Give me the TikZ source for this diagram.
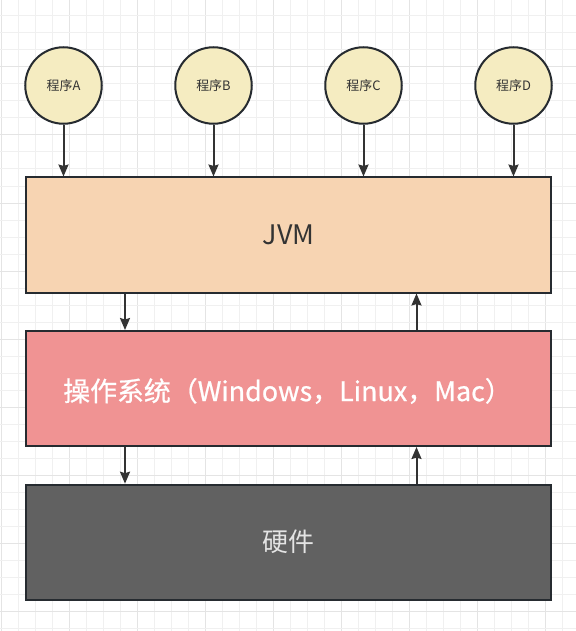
\documentclass[tikz,border=0pt]{standalone}
\usepackage{fontspec}
\setmainfont{Noto Sans CJK SC}
\newfontfamily\osfont[FakeBold=0.8]{Noto Sans CJK SC}
\usetikzlibrary{arrows.meta}
\definecolor{gridminor}{HTML}{F0F0F0}
\definecolor{gridmajor}{HTML}{E4E4E4}
\definecolor{edgecol}{HTML}{262B30}
\definecolor{arrcol}{HTML}{333333}
\definecolor{jvmfill}{HTML}{F7D4B2}
\definecolor{osfill}{HTML}{F09393}
\definecolor{hwfill}{HTML}{616161}
\definecolor{progfill}{HTML}{F5ECC1}
\definecolor{hwtext}{HTML}{E4E4E4}
\tikzset{
  prog/.style={circle, draw=edgecol, line width=2bp, fill=progfill, minimum size=76.5bp, inner sep=0pt,
    text=arrcol, font=\fontsize{13}{15}\selectfont},
  layer/.style={rectangle, draw=edgecol, line width=2bp, minimum width=525bp, minimum height=115bp, inner sep=0pt},
  arr/.style={draw=arrcol, line width=2bp, -{Stealth[length=12bp,width=10bp,inset=1.5bp]}}
}
\begin{document}
\begin{tikzpicture}[x=1bp,y=-1bp]
\useasboundingbox (0,0) rectangle (576,631);
\fill[white] (0,0) rectangle (576,631);
% grid
\foreach \k in {0,...,33} {
  \pgfmathtruncatemacro{\m}{mod(\k,4)}
  \ifnum\m=0 \draw[gridmajor, line width=1bp] ({1+17*\k},0) -- ({1+17*\k},631);
  \else \draw[gridminor, line width=1bp] ({1+17*\k},0) -- ({1+17*\k},631); \fi
}
\foreach \k in {1,...,37} {
  \pgfmathtruncatemacro{\m}{mod(\k,4)}
  \ifnum\m=0 \draw[gridmajor, line width=1bp] (0,{-1+17*\k}) -- (576,{-1+17*\k});
  \else \draw[gridminor, line width=1bp] (0,{-1+17*\k}) -- (576,{-1+17*\k}); \fi
}
% programs
\node[prog] (pa) at (63.5,85.5) {程序A};
\node[prog] (pb) at (213.5,85.5) {程序B};
\node[prog] (pc) at (363.5,85.5) {程序C};
\node[prog] (pd) at (513.5,85.5) {程序D};
% layers
\node[layer, fill=jvmfill, text=arrcol, font=\fontsize{27}{30}\selectfont] (jvm) at (288.5,235) {JVM};
\node[layer, fill=osfill, text=white, font=\fontsize{27}{30}\selectfont] (os) at (288.5,388.5) {};
\node[text=white, font=\osfont\fontsize{27}{30}\selectfont, inner sep=0pt] (ostext) at (287.5,391) {操作系统（Windows，Linux，Mac）};
\node[layer, fill=hwfill, text=hwtext, font=\fontsize{26}{30}\selectfont] (hw) at (288.5,542.2) {硬件};
% arrows
\coordinate (xl) at (125,0);
\coordinate (xr) at (416.5,0);
\foreach \p in {pa,pb,pc,pd} \draw[arr] (\p) -- (\p |- jvm.north);
\draw[arr] (jvm.south -| xl) -- (os.north -| xl);
\draw[arr] (os.south -| xl) -- (hw.north -| xl);
\draw[arr] (os.north -| xr) -- (jvm.south -| xr);
\draw[arr] (hw.north -| xr) -- (os.south -| xr);
\end{tikzpicture}
\end{document}
